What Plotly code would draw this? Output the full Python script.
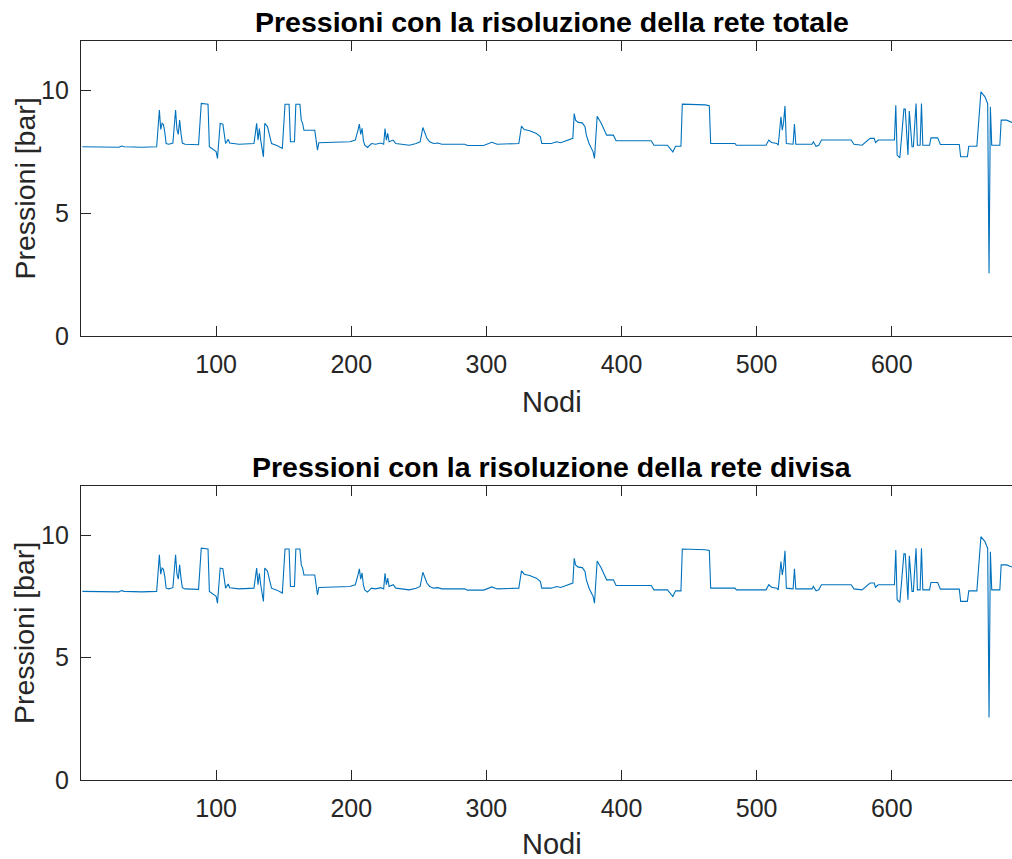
import plotly.graph_objects as go
from plotly.subplots import make_subplots

# ---- data ----
nodi = [1, 28, 30, 32, 45, 56, 58, 59, 60, 61, 62, 63, 65, 68, 70, 71, 72, 73, 74, 75, 77, 87,
        89, 94, 95, 97, 100, 101, 103, 105, 107, 109, 110, 117, 128, 130, 131, 132, 133, 135,
        136, 138, 139, 141, 145, 149, 151, 154, 155, 158, 159, 162, 163, 164, 165, 173, 175,
        176, 199, 203, 205, 206, 207, 208, 209, 210, 212, 215, 218, 222, 224, 225, 226, 227,
        228, 231, 233, 236, 243, 248, 251, 253, 254, 256, 258, 261, 264, 267, 284, 286, 298,
        304, 308, 316, 322, 324, 326, 328, 332, 337, 340, 341, 348, 352, 355, 359, 362, 364,
        365, 366, 368, 371, 373, 374, 376, 379, 380, 382, 385, 387, 389, 394, 396, 422, 424,
        434, 438, 440, 444, 445, 457, 462, 465, 466, 484, 485, 507, 509, 511, 515, 516, 518,
        519, 520, 521, 522, 527, 528, 529, 541, 542, 544, 546, 548, 570, 572, 578, 584, 587,
        588, 590, 602, 603, 604, 606, 609, 610, 612, 613, 615, 616, 618, 619, 621, 622, 623,
        628, 629, 634, 636, 650, 651, 656, 657, 663, 665, 666, 669, 670, 671, 672, 673, 674,
        680, 681, 685, 689]

pressioni_totale = [7.70, 7.68, 7.73, 7.70, 7.68, 7.70, 9.19, 8.40, 8.65, 8.60, 8.30, 7.83, 7.80,
                    7.85, 9.19, 8.40, 8.20, 8.78, 8.24, 7.85, 7.80, 7.78, 9.46, 9.43, 7.70, 7.62,
                    7.50, 7.22, 8.65, 8.62, 7.83, 8.00, 7.85, 7.80, 7.83, 8.65, 7.97, 8.44, 7.97,
                    7.29, 8.65, 8.52, 8.24, 7.83, 7.75, 7.63, 9.43, 9.43, 7.90, 7.90, 9.43, 9.43,
                    8.78, 8.65, 8.37, 8.37, 7.56, 7.86, 7.90, 7.97, 8.37, 8.62, 8.20, 8.45, 7.95,
                    7.76, 7.67, 7.83, 7.80, 7.85, 7.80, 8.44, 7.97, 8.24, 7.90, 7.97, 7.83, 7.80,
                    7.76, 7.83, 7.90, 8.48, 8.30, 8.04, 7.90, 7.83, 7.85, 7.80, 7.80, 7.75, 7.75,
                    7.88, 7.80, 7.82, 7.85, 7.83, 8.54, 8.40, 8.35, 8.24, 8.10, 7.83, 7.83, 7.90,
                    7.86, 7.93, 8.00, 8.04, 9.05, 8.78, 8.69, 8.67, 8.51, 8.17, 7.83, 7.49, 7.22,
                    8.94, 8.65, 8.40, 8.17, 8.17, 7.94, 7.94, 7.76, 7.76, 7.49, 7.72, 7.72, 9.43,
                    9.43, 9.40, 9.37, 7.83, 7.83, 7.76, 7.76, 7.97, 7.87, 7.83, 7.76, 8.92, 8.37,
                    8.71, 9.36, 7.83, 7.80, 8.62, 7.80, 7.80, 7.90, 7.72, 7.76, 7.97, 7.97, 7.80,
                    7.76, 8.04, 8.04, 7.87, 7.97, 7.97, 9.39, 7.36, 7.25, 9.23, 9.23, 7.36, 9.15,
                    7.70, 7.70, 9.46, 7.76, 7.76, 9.46, 7.76, 7.76, 8.06, 8.06, 7.79, 7.79, 7.29,
                    7.29, 7.72, 7.72, 9.39, 9.93, 9.73, 9.59, 9.45, 2.55, 9.32, 7.76, 7.76, 8.78,
                    8.78, 8.69]

pressioni_divisa = list(pressioni_totale)

x_ticks = [100, 200, 300, 400, 500, 600]
y_ticks = [0, 5, 10]

titoli = ["Pressioni con la risoluzione della rete totale",
          "Pressioni con la risoluzione della rete divisa"]
x_label = "Nodi"
y_label = "Pressioni [bar]"

# ---- figure ----
W, H = 1012, 859
H_EFF = 845  # effective rendered height observed
L = 81
LINE = "#0072BD"
AX = "#262626"
FONT = "Liberation Sans, Arial, Helvetica, sans-serif"

fig = make_subplots(rows=2, cols=1)
for i, serie in enumerate([pressioni_totale, pressioni_divisa], start=1):
    fig.add_trace(go.Scatter(x=nodi, y=serie, mode="lines",
                             line=dict(color=LINE, width=1.1),
                             showlegend=False, hoverinfo="skip"), row=i, col=1)

# plot boxes in pixels (top, bottom)
boxes = [(41, 336), (486, 780)]

axis_common = dict(showgrid=False, zeroline=False, showline=True, linecolor=AX, linewidth=1.3,
                   ticks="inside", ticklen=10, tickwidth=1.3, tickcolor=AX,
                   tickfont=dict(family=FONT, size=25, color=AX))

def py_frac(py):
    return 1 - py / H_EFF

for i, (top, bot) in enumerate(boxes, start=1):
    xa = "xaxis" if i == 1 else f"xaxis{i}"
    ya = "yaxis" if i == 1 else f"yaxis{i}"
    fig.layout[xa].update(domain=[0, 1], range=[0, 689], tickvals=x_ticks,
                          mirror="ticks", ticklabelstandoff=6, **axis_common)
    fig.layout[ya].update(domain=[py_frac(bot), py_frac(top)], range=[0, 12], tickvals=y_ticks,
                          mirror=False, ticklabelstandoff=6, **axis_common)

def px_x(px):
    return (px - L) / (W - L)

annotations = []
title_y = [22, 467]
xlabel_y = [402, 844]
ylabel_y = [188.5, 633]
for k in range(2):
    annotations.append(dict(text=f"<b>{titoli[k]}</b>", x=px_x(551.5), y=py_frac(title_y[k]),
                            xref="paper", yref="paper", showarrow=False,
                            xanchor="center", yanchor="middle",
                            font=dict(family=FONT, size=28.5, color="#000000")))
    annotations.append(dict(text=x_label, x=px_x(552), y=py_frac(xlabel_y[k]),
                            xref="paper", yref="paper", showarrow=False,
                            xanchor="center", yanchor="middle",
                            font=dict(family=FONT, size=29, color=AX)))
    annotations.append(dict(text=y_label, x=px_x(24), y=py_frac(ylabel_y[k]), textangle=-90,
                            xref="paper", yref="paper", showarrow=False,
                            xanchor="center", yanchor="middle",
                            font=dict(family=FONT, size=28.5, color=AX)))

fig.update_layout(width=W, height=H, margin=dict(l=L, r=0, t=0, b=0),
                  paper_bgcolor="white", plot_bgcolor="white",
                  annotations=annotations)

fig.write_html("out.html")
